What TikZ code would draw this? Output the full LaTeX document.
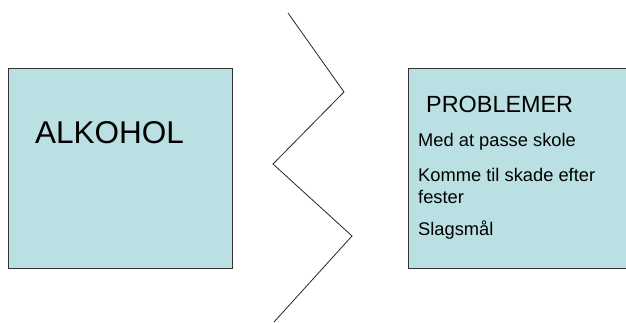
\documentclass[tikz,border=0pt]{standalone}
\usepackage{fontspec}
\setmainfont{Liberation Sans}
\definecolor{boxfill}{HTML}{BBE0E3}
\begin{document}
\begin{tikzpicture}[x=1pt,y=-1pt,
  panel/.style={draw=black!80,line width=0.8pt,fill=boxfill},
  txt/.style={anchor=base west,inner sep=0pt,text=black},
  item/.style={txt,font=\fontsize{18.3}{22}\selectfont}]
\useasboundingbox (0,0) rectangle (626,322);
\begin{scope}
\clip (0,0) rectangle (626,322);
\draw[panel] (8,68) rectangle (232,268);
\draw[panel] (408,68) rectangle (640,268);
\end{scope}
\node[txt,font=\fontsize{31.5}{36}\selectfont] (alk) at (35,143.3) {ALKOHOL};
\node[txt,font=\fontsize{23.4}{27}\selectfont] (prob) at (426,112.3) {PROBLEMER};
\node[item] (l1) at (418,146.7) {Med at passe skole};
\node[item] (l2) at (418,181.8) {Komme til skade efter};
\node[item] (l3) at (418,203.3) {fester};
\node[item] (l4) at (418,235) {Slagsmål};
\coordinate (z1) at (288,13);
\coordinate (z2) at (344,92);
\coordinate (z3) at (273,164);
\coordinate (z4) at (352,236);
\coordinate (z5) at (274,322);
\draw[black!85,line width=0.8pt] (z1) -- (z2) -- (z3) -- (z4) -- (z5);
\end{tikzpicture}
\end{document}
